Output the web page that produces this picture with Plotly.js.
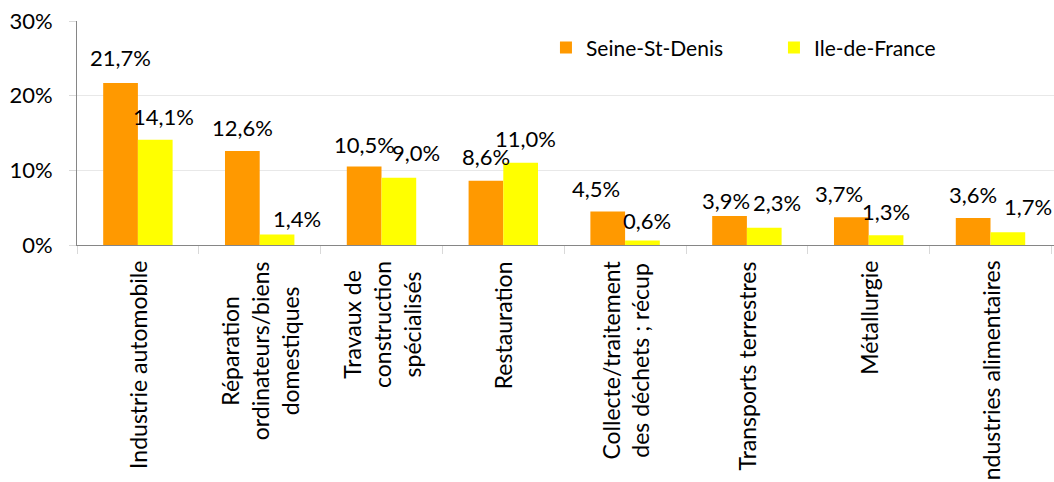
<!DOCTYPE html>
<html><head><meta charset="utf-8">
<script src="https://cdn.plot.ly/plotly-3.0.1.min.js"></script>
<style>html,body{margin:0;padding:0;background:#fff}#chart{width:1054px;height:482px}</style>
</head><body><div id="chart"></div>
<script>
const categories = [
  "Industrie automobile",
  "Réparation<br>ordinateurs/biens<br>domestiques",
  "Travaux de<br>construction<br>spécialisés",
  "Restauration",
  "Collecte/traitement<br>des déchets ; récup",
  "Transports terrestres",
  "Métallurgie",
  "Industries alimentaires"
];
const seineStDenis = [21.7, 12.6, 10.5, 8.6, 4.5, 3.9, 3.7, 3.6];
const ileDeFrance = [14.1, 1.4, 9.0, 11.0, 0.6, 2.3, 1.3, 1.7];
const yTickVals = [0, 10, 20, 30];
const yTickText = ["0%", "10%", "20%", "30%"];

// label placement tweaks (pixels, relative to each bar's top centre)
const seineLabelDx = [0, 0, 0, 0, -12, -3, -12, 0];
const seineLabelDy = [25, 23, 22, 24, 23, 15, 24, 24];
const ileLabelDx = [8, 20, 17, 5, 4, 13, 0, 20];
const ileLabelDy = [23, 16, 25, 24, 20, 25, 24, 26];

const FONT = "Lato, 'Open Sans', sans-serif";
const fmt = v => v.toFixed(1).replace('.', ',') + '%';
const HALF_BAR = 17.5;

const traces = [
  {type: 'bar', name: 'Seine-St-Denis', x: categories, y: seineStDenis,
   marker: {color: '#FF9900'}, hoverinfo: 'none'},
  {type: 'bar', name: 'Ile-de-France', x: categories, y: ileDeFrance,
   marker: {color: '#FFFF00'}, hoverinfo: 'none'}
];

const annotations = [];
categories.forEach((c, i) => {
  annotations.push({x: c, y: seineStDenis[i], xref: 'x', yref: 'y', text: fmt(seineStDenis[i]),
    showarrow: false, xanchor: 'center', yanchor: 'middle',
    xshift: -HALF_BAR + seineLabelDx[i], yshift: seineLabelDy[i],
    font: {family: FONT, size: 22, color: '#000'}});
  annotations.push({x: c, y: ileDeFrance[i], xref: 'x', yref: 'y', text: fmt(ileDeFrance[i]),
    showarrow: false, xanchor: 'center', yanchor: 'middle',
    xshift: HALF_BAR + ileLabelDx[i], yshift: ileLabelDy[i],
    font: {family: FONT, size: 22, color: '#000'}});
  // category labels, rotated, lines centred
  annotations.push({x: c, y: 0, xref: 'x', yref: 'paper', text: c, textangle: -90,
    showarrow: false, xanchor: 'center', yanchor: 'top', yshift: -14, align: 'center',
    font: {family: FONT, size: 23, color: '#000'}});
});

const layout = {
  width: 1054, height: 482,
  margin: {l: 77, r: 0, t: 21, b: 237},
  paper_bgcolor: '#fff', plot_bgcolor: '#fff',
  font: {family: FONT, size: 22, color: '#000'},
  barmode: 'group', bargap: 0.43, bargroupgap: 0,
  showlegend: true,
  legend: {orientation: 'h', x: 0.48, xanchor: 'left', y: 0.88, yanchor: 'middle',
    font: {family: FONT, size: 21, color: '#000'}, entrywidth: 183, entrywidthmode: 'pixels',
    bgcolor: 'rgba(0,0,0,0)', traceorder: 'normal'},
  xaxis: {type: 'category', tickson: 'boundaries', ticks: 'outside', ticklen: 8,
    tickcolor: '#d9d9d9', tickwidth: 1, showline: true, linecolor: '#868686', linewidth: 1,
    showgrid: false, showticklabels: false, fixedrange: true},
  yaxis: {range: [0, 30], tickvals: yTickVals, ticktext: yTickText, ticks: 'outside', ticklen: 7,
    tickcolor: '#d9d9d9', showline: true, linecolor: '#868686', linewidth: 1,
    ticklabelstandoff: 12,
    showgrid: true, gridcolor: '#e8e8e8', gridwidth: 1, zeroline: false,
    tickfont: {family: FONT, size: 22, color: '#000'}, fixedrange: true},
  annotations: annotations
};

Plotly.newPlot('chart', traces, layout, {displayModeBar: false, staticPlot: true});
</script></body></html>
